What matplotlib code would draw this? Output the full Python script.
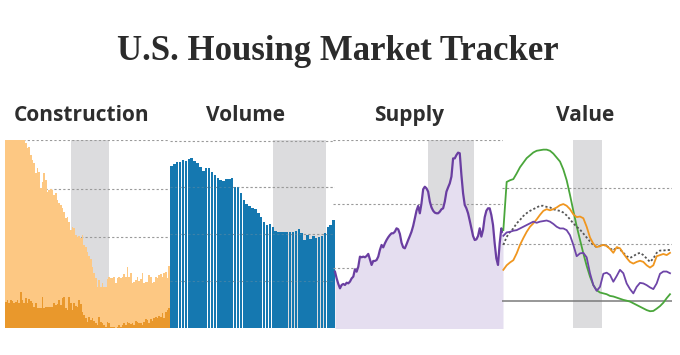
import matplotlib
matplotlib.use("Agg")
import matplotlib.pyplot as plt
import numpy as np

# ---- data ----
# Construction: total starts (light) and multifamily-ish series (dark), thousands
con_total = [2150, 2090, 2200, 2120, 2180, 2250, 2100, 2160, 2230, 2140, 2080, 2190,
             1966, 1914, 1931, 1845, 1794, 1759, 1656, 1708, 1674, 1502, 1570, 1656,
             1588, 1467, 1485, 1491, 1485, 1433, 1450, 1381, 1347, 1330, 1295, 1261,
             1192, 1210, 1158, 1072, 1100, 1089, 1021, 1004, 1010, 986, 1021, 918,
             894, 849, 805, 770, 694, 625, 574, 488, 557, 488, 522, 481,
             488, 564, 591, 574, 581, 584, 522, 574, 591, 574, 591, 619,
             591, 694, 584, 625, 529, 539, 557, 591, 550, 564, 625, 529,
             539, 539, 608, 591, 522, 539, 591, 574, 608, 619, 591, 625,
             643, 574, 701]
con_multi = [333, 350, 323, 350, 343, 323, 333, 350, 316, 436, 350, 316,
             367, 316, 357, 343, 316, 282, 323, 264, 264, 264, 385, 264,
             282, 282, 282, 282, 275, 316, 299, 309, 350, 299, 367, 385,
             264, 247, 385, 316, 247, 323, 288, 282, 350, 309, 230, 196,
             161, 127, 178, 144, 161, 137, 110, 92, 178, 127, 110, 92,
             75, 127, 110, 75, 75, 68, 65, 75, 92, 75, 92, 110,
             92, 127, 110, 99, 110, 92, 137, 127, 110, 110, 92, 127,
             151, 144, 110, 151, 137, 161, 178, 161, 185, 178, 213, 161,
             230, 247, 264]

# Volume: home sales, millions (annual rate)
volume = [6.89, 6.96, 7.08, 7.05, 7.15, 7.12, 7.19, 7.22, 7.11, 7.01, 6.86, 6.69,
          6.82, 6.79, 6.65, 6.51, 6.40, 6.30, 6.27, 6.33, 6.33, 6.40, 5.99, 6.01,
          5.73, 5.45, 5.28, 5.19, 5.09, 5.06, 4.88, 4.71, 4.52, 4.38, 4.41, 4.31,
          4.13, 4.10, 4.07, 4.07, 4.10, 4.07, 4.10, 4.13, 4.20, 4.03, 3.74, 3.96,
          3.77, 3.91, 3.82, 3.86, 3.91, 4.03, 4.31, 4.38, 4.60]

# Supply: months of supply
supply = [3.77, 3.35, 3.00, 2.73, 2.94, 3.00, 2.94, 3.08, 3.04, 3.15, 3.35, 3.46,
          3.92, 3.77, 4.08, 4.71, 4.67, 4.71, 4.67, 4.75, 4.88, 4.54, 4.19, 4.44,
          4.44, 4.50, 4.71, 5.13, 5.44, 5.29, 5.54, 5.75, 5.92, 6.06, 6.17, 6.17,
          6.27, 6.48, 6.42, 6.13, 5.58, 5.29, 5.23, 5.48, 5.75, 6.00, 6.27, 6.63,
          7.10, 7.58, 7.88, 7.42, 8.04, 8.92, 9.08, 8.98, 8.77, 8.15, 7.79, 7.58,
          7.46, 7.42, 7.42, 7.52, 7.67, 7.73, 8.15, 8.77, 9.04, 9.29, 9.71, 10.85,
          10.85, 11.06, 11.21, 11.17, 9.81, 8.67, 7.94, 7.73, 7.42, 6.96, 6.48, 6.00,
          5.75, 5.79, 6.00, 6.48, 5.96, 6.38, 7.17, 7.58, 7.73, 7.73, 7.31, 6.69,
          5.54, 4.60, 4.19, 5.54, 6.48, 6.27]

# Value: year-over-year % change, four price measures
val_green = [12.5, 21.0, 21.3, 21.5, 22.5, 23.6, 24.4, 25.2, 25.7, 26.2, 26.5, 26.6,
             26.7, 26.7, 26.5, 26.0, 25.3, 24.6, 23.2, 21.3, 18.7, 15.9, 13.2, 10.8,
             8.4, 6.2, 4.3, 2.8, 1.9, 1.5, 1.35, 1.2, 0.9, 0.8, 0.6, 0.4,
             0.2, 0.06, -0.1, -0.4, -0.7, -1.0, -1.3, -1.6, -1.8, -1.75, -1.35, -0.9,
             -0.3, 0.5, 1.2]
val_orange = [5.5, 6.3, 6.8, 7.2, 8.4, 9.9, 11.1, 12.2, 13.1, 13.7, 14.4, 15.2,
              15.9, 16.2, 16.0, 16.2, 16.5, 16.9, 17.1, 16.8, 16.2, 15.3, 14.8, 14.9,
              14.6, 13.1, 11.2, 10.1, 9.5, 9.7, 9.9, 9.7, 9.2, 8.5, 9.5, 9.3,
              8.4, 7.6, 6.9, 6.6, 6.9, 7.1, 6.9, 6.3, 5.9, 6.3, 7.9, 8.1,
              8.3, 8.1, 8.5]
val_dotted = [9.9, 11.3, 12.2, 12.8, 13.7, 14.3, 15.0, 15.5, 15.9, 16.2, 16.5, 16.8,
              16.8, 16.6, 16.5, 16.2, 16.0, 15.9, 15.6, 15.1, 14.4, 13.7, 13.1, 12.6,
              11.9, 11.2, 10.5, 9.9, 9.5, 9.7, 9.9, 9.7, 9.3, 8.9, 9.5, 9.1,
              8.5, 7.9, 7.6, 7.9, 8.3, 8.5, 8.1, 7.5, 6.9, 7.5, 8.5, 8.9,
              8.9, 9.0, 9.0]
val_purple = [11.5, 12.1, 12.2, 12.4, 12.5, 12.8, 13.1, 13.4, 13.7, 14.0, 13.8, 14.0,
              14.1, 14.2, 14.0, 13.6, 13.1, 12.8, 12.8, 12.5, 11.6, 9.9, 7.9, 8.4,
              8.5, 7.7, 4.9, 2.8, 1.8, 2.5, 4.8, 5.0, 4.6, 3.4, 4.4, 5.5,
              4.9, 3.1, 2.1, 1.35, 2.5, 3.2, 3.1, 2.8, 2.4, 2.1, 3.1, 4.8,
              5.2, 5.2, 4.9]

# recession band in each panel, as index of the series
con_rec = (39, 62)
vol_rec = (35.2, 53.3)
sup_rec = (56, 83.6)
val_rec = (20.9, 29.6)

W, H = 680, 355
fig = plt.figure(figsize=(W / 100, H / 100), dpi=100)
fig.patch.set_facecolor("white")


def box(x0, x1, y0=140, y1=328):
    return [x0 / W, (H - y1) / H, (x1 - x0) / W, (y1 - y0) / H]


shade = "#dcdcde"
grid = dict(color="#9a9a9a", lw=0.8, ls=(0, (2, 2)))


def clean(ax):
    ax.set_xticks([])
    ax.set_yticks([])
    for s in ax.spines.values():
        s.set_visible(False)
    ax.patch.set_alpha(0)


# Construction
ax1 = fig.add_axes(box(5, 170))
x1 = np.arange(len(con_total))
ax1.axvspan(con_rec[0], con_rec[1], color=shade, lw=0, zorder=0)
for g in [1000, 1500, 1995]:
    ax1.axhline(g, zorder=0.5, **grid)
ax1.bar(x1, con_total, width=0.85, color="#fdc883", lw=0, zorder=1)
ax1.bar(x1, con_multi, width=0.85, color="#e9982c", lw=0, zorder=2)
ax1.set_xlim(-0.5, len(con_total) - 0.5)
ax1.set_ylim(62, 2000)
clean(ax1)

# Volume
ax2 = fig.add_axes(box(170, 335))
x2 = np.arange(len(volume))
ax2.axvspan(vol_rec[0], vol_rec[1], color=shade, lw=0, zorder=0)
for g in [2, 4, 6, 7.97]:
    ax2.axhline(g, zorder=0.5, **grid)
ax2.bar(x2, volume, width=0.86, color="#1578b0", lw=0, zorder=1)
for g in [2, 4, 6]:
    ax2.axhline(g, zorder=3, alpha=0.3, **grid)
ax2.set_xlim(-0.5, len(volume) - 0.5)
ax2.set_ylim(0, 8)
clean(ax2)

# Supply
ax3 = fig.add_axes(box(333, 503))
x3 = np.arange(len(supply))
ax3.axvspan(sup_rec[0], sup_rec[1], color=shade, lw=0, zorder=0)
for g in [4, 8, 11.97]:
    ax3.axhline(g, zorder=0.5, **grid)
ax3.fill_between(x3, 0, supply, color="#e5def0", lw=0, zorder=1)
ax3.plot(x3, supply, color="#6a3ea1", lw=1.6, zorder=2, solid_joinstyle="round")
ax3.set_xlim(-1.2, len(supply) - 1)
ax3.set_ylim(0.25, 12)
clean(ax3)

# Value
ax4 = fig.add_axes(box(502, 672))
x4 = np.arange(len(val_green))
ax4.axvspan(val_rec[0], val_rec[1], color=shade, lw=0, zorder=0)
for g in [10, 20]:
    ax4.axhline(g, zorder=0.5, **grid)
ax4.axhline(0, color="#7a7a7a", lw=1.1, zorder=0.6)
ax4.plot(x4, val_green, color="#4aa63b", lw=1.3, zorder=2)
ax4.plot(x4, val_dotted, color="#555555", lw=1.3, ls=(0, (1.2, 1.2)), zorder=2)
ax4.plot(x4, val_orange, color="#f0961f", lw=1.3, zorder=3)
ax4.plot(x4, val_purple, color="#6e45a8", lw=1.3, zorder=3)
ax4.set_xlim(-0.4, len(val_green) - 0.4)
ax4.set_ylim(-4.76, 28.4)
clean(ax4)

# titles
fig.text(338 / W, (H - 60) / H, "U.S. Housing Market Tracker", ha="center", va="baseline",
         fontsize=25, fontweight="bold", family="Liberation Serif", color="#2b2b2b")
for cx, t in [(82, "Construction"), (245, "Volume"), (409, "Supply"), (585, "Value")]:
    fig.text(cx / W, (H - 121) / H, t, ha="center", va="baseline", fontsize=15,
             fontweight="bold", family="Open Sans", color="#2e2e2e")

fig.savefig("out.png", dpi=100, facecolor="white")
